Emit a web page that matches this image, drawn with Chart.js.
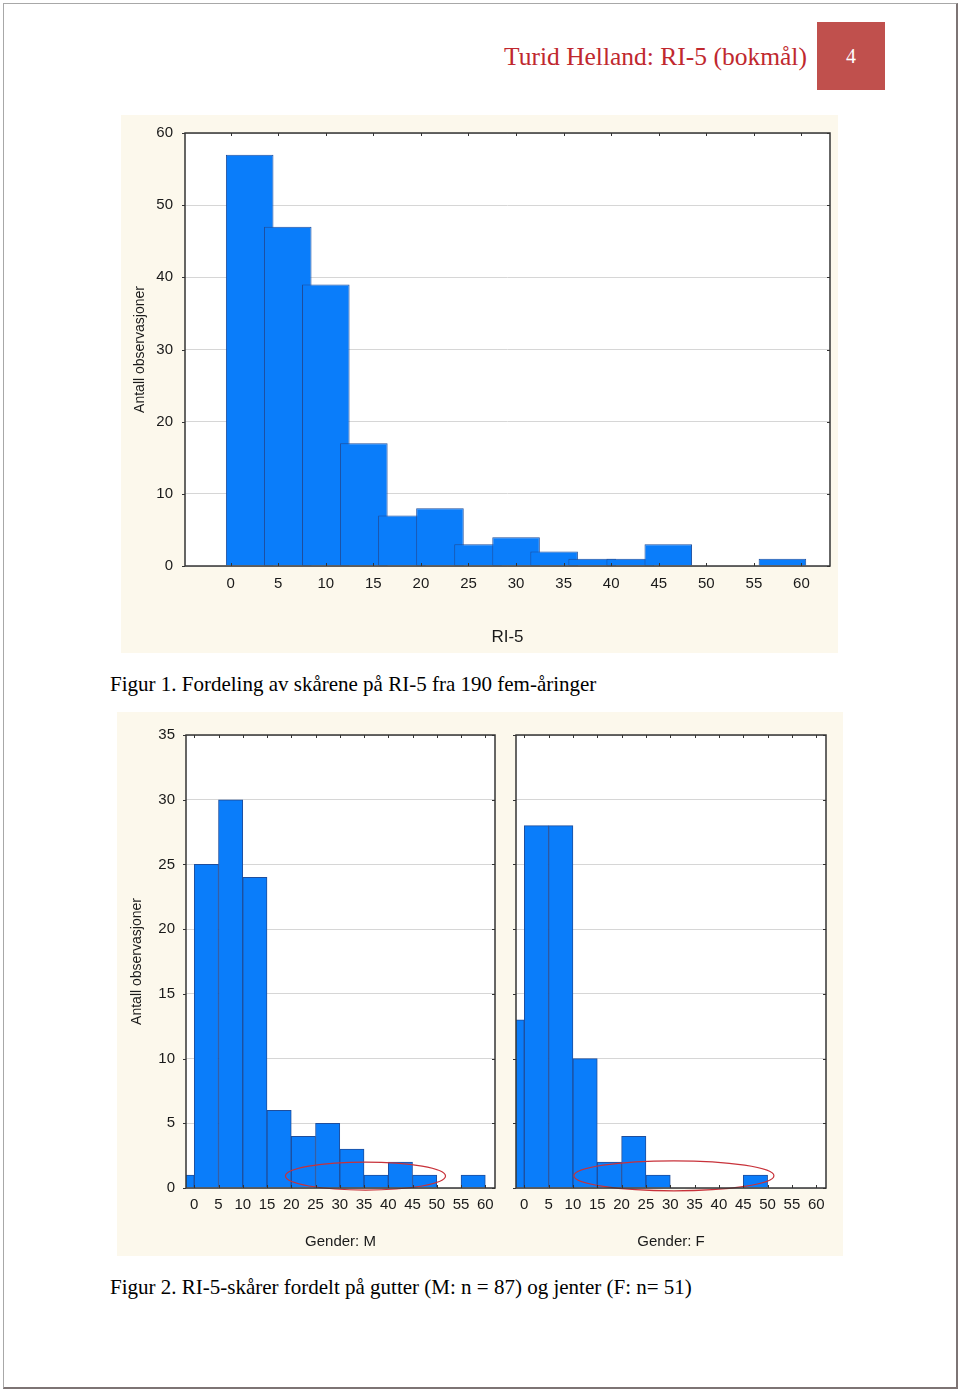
<!DOCTYPE html>
<html><head><meta charset="utf-8">
<script src="https://cdn.jsdelivr.net/npm/chart.js@4.4.1/dist/chart.umd.min.js"></script>
<style>
html,body{margin:0;padding:0;background:#fff;}
body{width:960px;height:1392px;position:relative;overflow:hidden;}
#page{position:absolute;left:3px;top:3px;width:952px;height:1383px;border-left:1px solid #a8a8a8;border-top:1px solid #a8a8a8;border-right:2px solid #7d7474;border-bottom:2px solid #7d7474;}
#hdr{position:absolute;left:504px;top:40px;font-family:'Liberation Serif',serif;font-size:25.5px;color:#c0282e;white-space:nowrap;line-height:34px;}
#pg{position:absolute;left:817px;top:22px;width:68px;height:68px;background:#c0504d;color:#fff;font-family:'Liberation Serif',serif;font-size:20px;text-align:center;line-height:68px;}
.cap{position:absolute;left:110px;font-family:'Liberation Serif','Times New Roman',serif;font-size:21px;line-height:24px;color:#000;white-space:nowrap;}
.panel{position:absolute;background:#fcf8ec;}
canvas{position:absolute;top:0;}
</style></head>
<body>
<div id="page"></div>
<div id="hdr">Turid Helland: RI-5 (bokmål)</div>
<div id="pg">4</div>
<div class="panel" style="left:121px;top:115px;width:717px;height:538px;">
  <canvas id="c1" width="717" height="541" style="left:0;top:-3px"></canvas>
</div>
<div class="cap" style="top:672px;">Figur 1. Fordeling av skårene på RI-5 fra 190 fem-åringer</div>
<div class="panel" style="left:117px;top:712px;width:726px;height:544px;">
  <canvas id="c2" width="388" height="544" style="left:0"></canvas>
  <canvas id="c3" width="338" height="544" style="left:388px"></canvas>
</div>
<div class="cap" style="top:1275px;">Figur 2. RI-5-skårer fordelt på gutter (M: n = 87) og jenter (F: n= 51)</div>
<script>
// ---- data ----
const xTickValues = [0, 5, 10, 15, 20, 25, 30, 35, 40, 45, 50, 55, 60];
const ri5BarCentres = [2, 6, 10, 14, 18, 22, 26, 30, 34, 38, 42, 46, 50, 54, 58];
const ri5Counts = [57, 47, 39, 17, 7, 8, 3, 4, 2, 1, 1, 3, 0, 0, 1];
const ri5YTicks = [0, 10, 20, 30, 40, 50, 60];

const genderBarCentres = [-2.5, 2.5, 7.5, 12.5, 17.5, 22.5, 27.5, 32.5, 37.5, 42.5, 47.5, 52.5, 57.5];
const maleCounts = [1, 25, 30, 24, 6, 4, 5, 3, 1, 2, 1, 0, 1];
const femaleCounts = [13, 28, 28, 10, 2, 4, 1, 0, 0, 0, 1, 0, 0];
const genderYTicks = [0, 5, 10, 15, 20, 25, 30, 35];

const maleEllipse = {x: 35.3, y: 0.92, rx: 16.5, ry: 1.08};
const femaleEllipse = {x: 30.75, y: 0.94, rx: 20.55, ry: 1.16};

// ---- styling ----
const FONT = "'Liberation Sans', Arial, sans-serif";
const BAR_FILL = '#0a7dfa';
const BAR_EDGE = '#1f4e9c';
const TXT = '#1a1a1a';

const framePlugin = {
  id: 'frame',
  beforeDraw(chart) {
    const {ctx, chartArea: a} = chart;
    ctx.save();
    ctx.fillStyle = '#ffffff';
    ctx.fillRect(a.left, a.top, a.right - a.left, a.bottom - a.top);
    ctx.restore();
  },
  afterDatasetsDraw(chart, args, opts) {
    const {ctx, chartArea: a} = chart;
    const xs = chart.scales.x, ys = chart.scales.y;
    ctx.save();
    if (opts && opts.ellipse) {
      const e = opts.ellipse;
      const cx = xs.getPixelForValue(e.x), cy = ys.getPixelForValue(e.y);
      const rx = Math.abs(xs.getPixelForValue(e.x + e.rx) - cx);
      const ry = Math.abs(ys.getPixelForValue(e.y + e.ry) - cy);
      ctx.beginPath();
      ctx.ellipse(cx, cy, rx, ry, 0, 0, Math.PI * 2);
      ctx.strokeStyle = '#c8323a';
      ctx.lineWidth = 1.2;
      ctx.stroke();
    }
    ctx.strokeStyle = '#333';
    ctx.lineWidth = 1;
    ctx.beginPath();
    xs.ticks.forEach(t => {
      const p = Math.round(xs.getPixelForValue(t.value)) + 0.5;
      ctx.moveTo(p, a.top); ctx.lineTo(p, a.top + 3);
      ctx.moveTo(p, a.bottom); ctx.lineTo(p, a.bottom - 3);
    });
    ys.ticks.forEach(t => {
      const p = Math.round(ys.getPixelForValue(t.value)) + 0.5;
      ctx.moveTo(a.left - 3, p); ctx.lineTo(a.left, p);
      ctx.moveTo(a.right, p); ctx.lineTo(a.right - 3, p);
    });
    ctx.stroke();
    ctx.strokeStyle = '#353535';
    ctx.lineWidth = 1.5;
    ctx.strokeRect(a.left, a.top, a.right - a.left, a.bottom - a.top);
    ctx.restore();
  }
};

function makeChart(id, cfg) {
  const xs = cfg.centres.map((c, i) => ({x: c, y: cfg.counts[i]}));
  return new Chart(document.getElementById(id), {
    type: 'bar',
    data: {datasets: [{
      data: xs,
      backgroundColor: BAR_FILL,
      borderColor: BAR_EDGE,
      borderWidth: 1,
      borderSkipped: 'start',
      barPercentage: cfg.barPct,
      categoryPercentage: 1
    }]},
    plugins: [framePlugin],
    options: {
      responsive: false,
      animation: false,
      layout: {padding: cfg.padding},
      plugins: {
        legend: {display: false},
        tooltip: {enabled: false},
        frame: {ellipse: cfg.ellipse || null}
      },
      scales: {
        x: {
          type: 'linear',
          offset: false,
          min: cfg.xMin, max: cfg.xMax,
          afterBuildTicks: s => { s.ticks = xTickValues.map(v => ({value: v})); },
          afterFit: s => { s.height = cfg.xHeight; },
          grid: {display: false, drawTicks: false, offset: false},
          border: {display: false},
          ticks: {autoSkip: false, maxRotation: 0, padding: cfg.xTickPad, color: TXT,
                  font: {family: FONT, size: 15}},
          title: {display: true, text: cfg.xTitle, color: TXT,
                  font: {family: FONT, size: cfg.xTitleSize}, padding: {top: 0, bottom: cfg.xTitlePad}}
        },
        y: {
          min: 0, max: cfg.yMax,
          afterBuildTicks: s => { s.ticks = cfg.yTicks.map(v => ({value: v})); },
          afterFit: s => { s.width = cfg.yWidth; },
          grid: {color: '#d6d6d6', lineWidth: 1, drawTicks: false},
          border: {display: false},
          ticks: {display: cfg.yLabels, padding: cfg.yTickPad, color: TXT,
                  font: {family: FONT, size: 15}},
          title: {display: !!cfg.yTitle, text: cfg.yTitle || '', color: TXT,
                  font: {family: FONT, size: 14}, padding: {top: cfg.yTitlePad || 0, bottom: 0}}
        }
      }
    }
  });
}

makeChart('c1', {
  centres: ri5BarCentres, counts: ri5Counts, barPct: 1.25,
  xMin: -4.8, xMax: 63, yMax: 60, yTicks: ri5YTicks,
  padding: {top: 20, right: 8, left: 0, bottom: 0},
  xHeight: 87, yWidth: 64, xTickPad: 9, yTickPad: 12,
  xTitle: 'RI-5', xTitleSize: 17, xTitlePad: 5,
  yTitle: 'Antall observasjoner', yTitlePad: 10.6, yLabels: true
});

makeChart('c2', {
  centres: genderBarCentres, counts: maleCounts, barPct: 1,
  xMin: -1.7, xMax: 62, yMax: 35, yTicks: genderYTicks,
  padding: {top: 23, right: 10, left: 0, bottom: 0},
  xHeight: 68, yWidth: 69, xTickPad: 8, yTickPad: 11,
  xTitle: 'Gender: M', xTitleSize: 15, xTitlePad: 5,
  yTitle: 'Antall observasjoner', yTitlePad: 11.6, yLabels: true,
  ellipse: maleEllipse
});

makeChart('c3', {
  centres: genderBarCentres, counts: femaleCounts, barPct: 1,
  xMin: -1.7, xMax: 62, yMax: 35, yTicks: genderYTicks,
  padding: {top: 23, right: 17, left: 0, bottom: 0},
  xHeight: 68, yWidth: 11, xTickPad: 8, yTickPad: 0,
  xTitle: 'Gender: F', xTitleSize: 15, xTitlePad: 5,
  yTitle: null, yLabels: false,
  ellipse: femaleEllipse
});
</script>
</body></html>
